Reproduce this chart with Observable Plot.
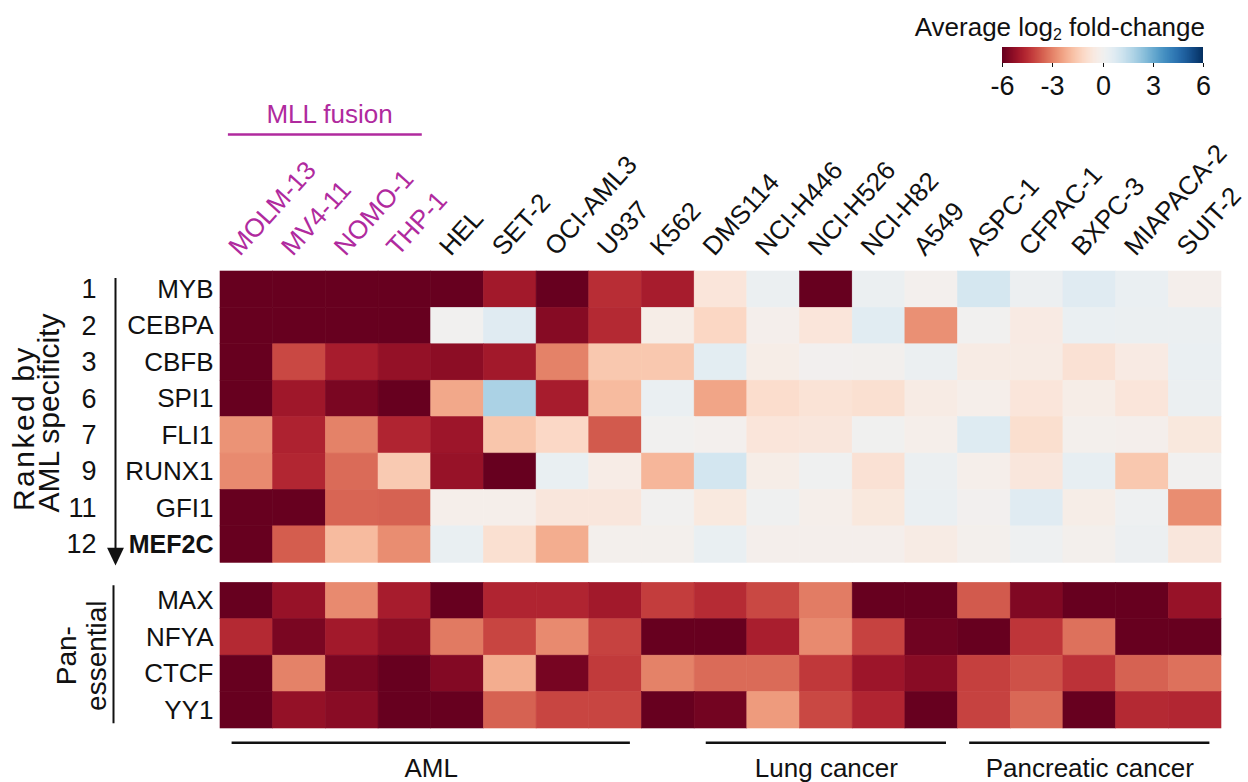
<!DOCTYPE html>
<html><head><meta charset="utf-8">
<script src="https://cdn.jsdelivr.net/npm/d3@7"></script>
<script src="https://cdn.jsdelivr.net/npm/@observablehq/plot@0.6"></script>
<style>
body{margin:0;background:#fff;}
#wrap{position:relative;width:1248px;height:782px;overflow:hidden;background:#fff;font-family:'Liberation Sans',Arial,Helvetica,sans-serif;color:#111;}
#chart{position:absolute;left:0;top:0;}
#ltitle{position:absolute;top:14px;right:43px;font-size:26px;line-height:26px;white-space:nowrap;}
#ltitle sub{font-size:16px;line-height:0;vertical-align:-4px;}
#legend{position:absolute;left:982px;top:47px;}
#legend .tick line{stroke-dasharray:0 16 4 100;}
</style></head><body>
<div id="wrap"><div id="chart"></div><div id="ltitle">Average log<sub>2</sub> fold-change</div><div id="legend"></div></div>
<script>
// ---------- data ----------
const cellLines = ["MOLM-13","MV4-11","NOMO-1","THP-1","HEL","SET-2","OCI-AML3","U937","K562","DMS114","NCI-H446","NCI-H526","NCI-H82","A549","ASPC-1","CFPAC-1","BXPC-3","MIAPACA-2","SUIT-2"];
const mllFusionLines = ["MOLM-13","MV4-11","NOMO-1","THP-1"];
const amlLines = ["MOLM-13","MV4-11","NOMO-1","THP-1","HEL","SET-2","OCI-AML3","U937"];
const lungLines = ["DMS114","NCI-H446","NCI-H526","NCI-H82","A549"];
const pancreaticLines = ["ASPC-1","CFPAC-1","BXPC-3","MIAPACA-2","SUIT-2"];
const groupLabels = ["AML","Lung cancer","Pancreatic cancer"];

const specificGenes = ["MYB","CEBPA","CBFB","SPI1","FLI1","RUNX1","GFI1","MEF2C"];
const specificityRanks = ["1","2","3","6","7","9","11","12"];
const panEssentialGenes = ["MAX","NFYA","CTCF","YY1"];

const valuesMYB   = [-6,-6,-6,-6,-6,-5.0,-6,-4.5,-4.9,-0.7,0.3,-6,0.3,-0.05,1.0,0.25,0.7,0.35,-0.15];
const valuesCEBPA = [-6,-6,-6,-6,0.05,0.7,-5.5,-4.6,-0.3,-1.2,-0.15,-0.7,0.65,-2.75,0.05,-0.45,0.35,0.3,0.3];
const valuesCBFB  = [-6,-4.0,-4.9,-5.25,-5.4,-5.0,-3.0,-1.6,-1.6,0.6,-0.3,0.0,-0.02,0.3,-0.4,-0.4,-0.85,-0.45,0.35];
const valuesSPI1  = [-6,-5.05,-5.7,-6,-2.3,1.9,-4.9,-1.9,0.35,-2.35,-1.0,-0.8,-0.9,-0.4,-0.2,-0.7,-0.3,-0.7,0.3];
const valuesFLI1  = [-2.7,-4.75,-3.0,-4.7,-5.1,-1.65,-1.15,-3.7,0.05,-0.05,-0.7,-0.65,0.1,-0.2,0.75,-0.95,-0.1,-0.15,-0.6];
const valuesRUNX1 = [-2.85,-4.65,-3.4,-1.55,-5.2,-6,0.4,-0.35,-2.0,1.05,-0.3,0.15,-0.85,0.3,-0.2,-0.65,0.45,-1.6,0.05];
const valuesGFI1  = [-6,-6,-3.5,-3.55,-0.2,-0.2,-0.65,-0.65,0.05,-0.55,0.15,-0.2,-0.6,0.35,0,0.7,-0.3,0.2,-2.8];
const valuesMEF2C = [-6,-3.65,-1.9,-2.8,0.4,-0.9,-2.2,-0.1,-0.1,0.4,-0.15,-0.15,-0.15,-0.4,-0.1,0.2,-0.1,0.25,-0.65];
const valuesMAX   = [-6,-5.2,-2.85,-4.9,-6,-4.7,-4.7,-5.0,-4.2,-4.55,-4.0,-3.1,-6,-6,-3.7,-5.6,-6,-6,-5.2];
const valuesNFYA  = [-4.6,-5.7,-5.0,-5.4,-3.15,-4.05,-2.85,-4.1,-6,-6,-4.85,-2.85,-4.1,-5.85,-6,-4.35,-3.3,-6,-6];
const valuesCTCF  = [-6,-3.0,-5.7,-6,-5.55,-2.2,-5.75,-4.25,-3.0,-3.4,-3.4,-4.3,-5.1,-5.45,-4.15,-3.85,-4.4,-3.55,-3.3];
const valuesYY1   = [-6,-5.25,-5.45,-6,-6,-3.55,-4.05,-4.05,-6,-5.8,-2.55,-4.0,-4.7,-6,-4.1,-3.45,-6,-4.6,-4.65];

const colorTicks = [-6,-3,0,3,6];

// ---------- derived tables ----------
const specificValues = [valuesMYB,valuesCEBPA,valuesCBFB,valuesSPI1,valuesFLI1,valuesRUNX1,valuesGFI1,valuesMEF2C];
const panValues = [valuesMAX,valuesNFYA,valuesCTCF,valuesYY1];
const GAP = 0.55; // gap between the two panels, in row units
const rows = [
  ...specificGenes.map((g,i)=>({gene:g, rank:specificityRanks[i], top:i, values:specificValues[i]})),
  ...panEssentialGenes.map((g,i)=>({gene:g, top:specificGenes.length+GAP+i, values:panValues[i]}))
];
const cells = rows.flatMap(r => cellLines.map((c,j)=>({line:c, col:j, gene:r.gene, top:r.top, value:r.values[j]})));
const columns = cellLines.map((c,j)=>({line:c, col:j, mll:mllFusionLines.includes(c)}));
const span = (label, members) => ({label, first:cellLines.indexOf(members[0]), last:cellLines.indexOf(members[members.length-1])});
const groups = [span(groupLabels[0],amlLines), span(groupLabels[1],lungLines), span(groupLabels[2],pancreaticLines)];
const mll = span("MLL fusion", mllFusionLines);
const bottomTop = specificGenes.length + GAP;
const total = bottomTop + panEssentialGenes.length;

const FONT = "'Liberation Sans', Arial, Helvetica, sans-serif";
const INK = "#111";
const MAGENTA = "#b02a9e";

const arrowHead = {draw(ctx, size){ const h = Math.sqrt(size), w = h*0.95; ctx.moveTo(-w/2,-h/2); ctx.lineTo(w/2,-h/2); ctx.lineTo(0,h/2); ctx.closePath(); }};

const colText = {x: d => d.col + 0.5, y: 0, text: "line", rotate: -48, textAnchor: "start", dx: -13, dy: -20, fontSize: 26};

const chart = Plot.plot({
  width: 1248, height: 782,
  marginLeft: 220, marginRight: 27, marginTop: 271, marginBottom: 54,
  x: {domain: [0, cellLines.length], axis: null},
  y: {domain: [0, total], reverse: true, axis: null},
  color: {type: "linear", scheme: "RdBu", domain: [-6, 6], clamp: true},
  style: {fontFamily: FONT, background: "white", color: INK, overflow: "visible"},
  marks: [
    Plot.rect(cells, {x1: "col", x2: d => d.col + 1, y1: "top", y2: d => d.top + 1, fill: "value", stroke: "value", strokeWidth: 0.6}),
    // column labels
    Plot.text(columns.filter(d => d.mll), {...colText, fill: MAGENTA}),
    Plot.text(columns.filter(d => !d.mll), {...colText, fill: INK}),
    // row labels
    Plot.text(rows.filter(r => r.gene !== "MEF2C"), {frameAnchor: "left", y: d => d.top + 0.5, text: "gene", textAnchor: "end", dx: -7, fontSize: 26, fill: INK}),
    Plot.text(rows.filter(r => r.gene === "MEF2C"), {frameAnchor: "left", y: d => d.top + 0.5, text: "gene", textAnchor: "end", dx: -7, fontSize: 25, fontWeight: "bold", fill: INK}),
    Plot.text(rows.filter(r => r.rank), {frameAnchor: "left", y: d => d.top + 0.5, text: "rank", textAnchor: "end", dx: -124, fontSize: 27, fill: INK}),
    // side annotations
    Plot.text(["Ranked by"], {frameAnchor: "left", y: 6.58, text: d => d, rotate: -90, textAnchor: "start", dx: -196.6, fontSize: 30, fill: INK}),
    Plot.text(["AML specificity"], {frameAnchor: "left", y: 6.62, text: d => d, rotate: -90, textAnchor: "start", dx: -171.6, fontSize: 30, fill: INK}),
    Plot.ruleX([0], {x: 0, y1: 0.19, y2: 7.65, dx: -105, strokeWidth: 2, stroke: INK}),
    Plot.dot([0], {x: 0, y: 7.83, dx: -105, r: 10, symbol: arrowHead, fill: INK}),
    Plot.text(["Pan-\nessential"], {frameAnchor: "left", y: bottomTop + 2, text: d => d, rotate: -90, textAnchor: "middle", lineHeight: 1.07, dx: -139, fontSize: 28, fill: INK}),
    Plot.ruleX([0], {x: 0, y1: bottomTop + 0.08, y2: bottomTop + 3.87, dx: -107, strokeWidth: 2, stroke: INK}),
    // group annotations
    Plot.ruleY(groups, {y: total + 0.39, x1: d => d.first + 0.22, x2: d => d.last + 0.78, strokeWidth: 2.5, stroke: INK}),
    Plot.text(groups, {x: d => (d.first + d.last + 1) / 2, y: total + 1.1, text: "label", fontSize: 26, fill: INK}),
    Plot.ruleY([mll], {y: -3.76, x1: d => d.first + 0.15, x2: d => d.last + 0.83, strokeWidth: 2.5, stroke: MAGENTA}),
    Plot.text([mll], {x: d => (d.first + d.last + 1) / 2 + 0.07, y: -4.3, text: "label", fontSize: 26, fill: MAGENTA})
  ]
});
// slightly looser tracking on the first line of the rotated caption, as in the reference
d3.select(chart).selectAll("text").filter(function(){ return this.textContent === "Ranked by"; }).attr("letter-spacing", "2.5px");
document.getElementById("chart").appendChild(chart);

const legend = chart.legend("color", {
  legend: "ramp", width: 246, height: 56,
  marginLeft: 20, marginRight: 25, marginTop: 0, marginBottom: 40,
  ticks: colorTicks, tickSize: 10, tickFormat: d => String(d), label: null,
  style: {fontSize: "27px", fontFamily: FONT, color: INK, background: "transparent"}
});
document.getElementById("legend").appendChild(legend);
</script></body></html>
